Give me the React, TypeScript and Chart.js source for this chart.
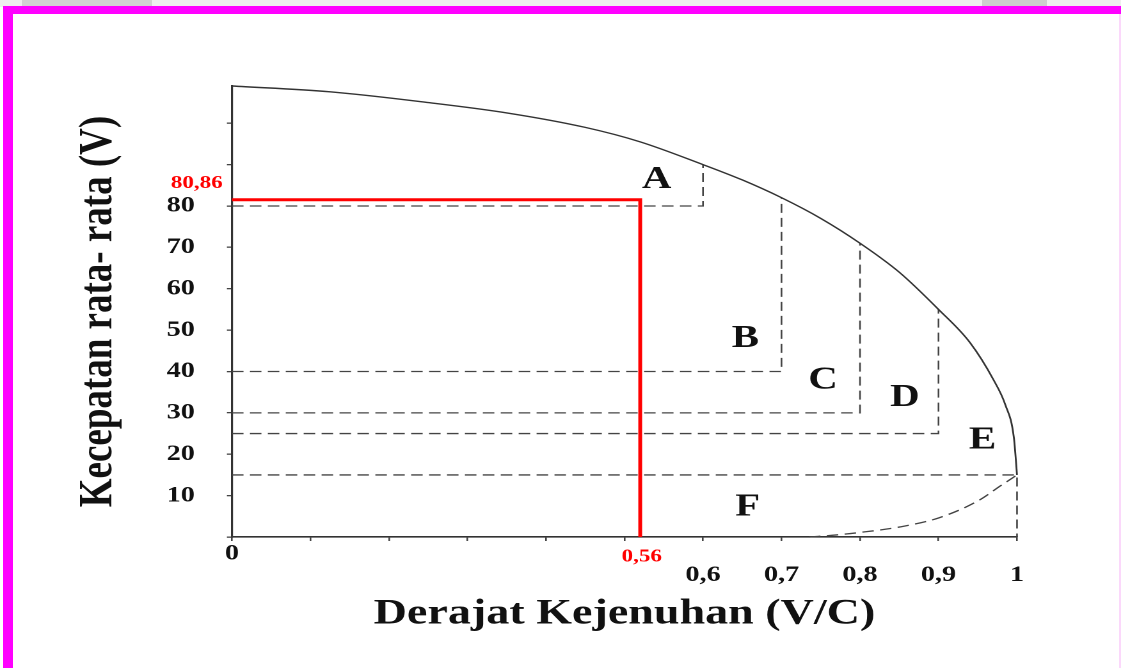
import React, { useEffect, useRef } from 'react';
import { Chart, registerables } from 'chart.js';

Chart.register(...registerables);

// ---- data (value units) ----
const upperX = [0, 0.125, 0.25, 0.35, 0.45, 0.52, 0.6, 0.65, 0.7, 0.75, 0.8, 0.85, 0.9, 0.94, 0.97, 0.985, 0.996, 1];
const upperV = [109, 107.6, 105, 102.5, 99, 95.5, 90, 86.3, 82, 77, 71, 64, 55, 47, 38, 32, 24, 15];
const lowerX = [0.735, 0.77, 0.8, 0.85, 0.9, 0.95, 0.98, 1];
const lowerV = [0, 0.5, 1.1, 2.4, 4.6, 8.7, 12.5, 15];
const boxLevel = [80, 40, 30, 25];
const boxRight = [0.6, 0.7, 0.8, 0.9];
const boxTop = [90, 82, 71, 55];
const floorLevel = 15;
const floorRight = 1;
const redX = 0.52;
const redY = 81.5;
const regionLabels = ['A', 'B', 'C', 'D', 'E', 'F'];
const regionX = [0.541, 0.654, 0.753, 0.857, 0.956, 0.657];
const regionY = [86.3, 47.9, 37.9, 33.7, 23.4, 7.2];
const noteText = ['80,86', '0,56'];
const noteX = [-0.045, 0.522];
const noteY = [85.5, -4.8];
const originText = '0';
const xTickLabels = ['', '', '', '', '', '', '0,6', '0,7', '0,8', '0,9', '1'];
const yTickLabels = ['', '10', '20', '30', '40', '50', '60', '70', '80', '', ''];
const xTitle = 'Derajat Kejenuhan (V/C)';
const yTitle = 'Kecepatan rata- rata (V)';

const PAGE_W = 1121;
const PAGE_H = 668;
const CANVAS_W = 876;
const STRETCH = PAGE_W / CANVAS_W;
const SERIF = '"Liberation Serif", "Times New Roman", serif';

const annotPlugin = {
  id: 'annot',
  afterDraw(chart: any) {
    const { ctx } = chart;
    const xs = chart.scales.x;
    const ys = chart.scales.y;
    ctx.save();
    ctx.textAlign = 'center';
    ctx.textBaseline = 'middle';
    ctx.fillStyle = '#111';
    ctx.font = `bold 32px ${SERIF}`;
    regionLabels.forEach((t, i) => {
      ctx.fillText(t, xs.getPixelForValue(regionX[i]), ys.getPixelForValue(regionY[i]));
    });
    ctx.fillStyle = '#ff0000';
    ctx.font = `bold 18px ${SERIF}`;
    noteText.forEach((t, i) => {
      ctx.fillText(t, xs.getPixelForValue(noteX[i]), ys.getPixelForValue(noteY[i]));
    });
    ctx.fillStyle = '#111';
    ctx.font = `bold 22px ${SERIF}`;
    ctx.fillText(originText, xs.getPixelForValue(0), ys.getPixelForValue(-4.1));
    ctx.restore();
  },
};

function pts(xs: number[], ys: number[]) {
  return xs.map((x, i) => ({ x, y: ys[i] }));
}

export default function App() {
  const ref = useRef<HTMLCanvasElement | null>(null);

  useEffect(() => {
    if (!ref.current) return;
    const dashed = { borderDash: [9, 5], borderColor: '#444', borderWidth: 1.3 };
    const datasets: any[] = [
      {
        data: pts(upperX, upperV),
        borderColor: '#333',
        borderWidth: 1.4,
        cubicInterpolationMode: 'monotone',
      },
      {
        data: pts(lowerX, lowerV),
        cubicInterpolationMode: 'monotone',
        ...dashed,
      },
      ...boxLevel.map((lv, i) => ({
        data: [
          { x: 0, y: lv },
          { x: boxRight[i], y: lv },
          { x: boxRight[i], y: boxTop[i] },
        ],
        ...dashed,
      })),
      {
        data: [
          { x: 0, y: floorLevel },
          { x: floorRight, y: floorLevel },
          { x: floorRight, y: 0 },
        ],
        ...dashed,
      },
      {
        data: [
          { x: 0, y: redY },
          { x: redX, y: redY },
          { x: redX, y: 0 },
        ],
        borderColor: '#ff0000',
        borderWidth: 3,
      },
    ].map((d) => ({ showLine: true, pointRadius: 0, clip: false, fill: false, ...d }));

    const chart = new Chart(ref.current, {
      type: 'scatter',
      data: { datasets },
      plugins: [annotPlugin],
      options: {
        animation: false,
        responsive: false,
        maintainAspectRatio: false,
        devicePixelRatio: 2,
        events: [],
        layout: { padding: { left: 0, top: 86, right: CANVAS_W - 1017 / STRETCH, bottom: 0 } },
        plugins: { legend: { display: false }, tooltip: { enabled: false }, title: { display: false } },
        scales: {
          x: {
            type: 'linear',
            min: 0,
            max: 1,
            afterFit: (s: any) => {
              s.height = PAGE_H - 537;
            },
            ticks: {
              stepSize: 0.1,
              autoSkip: false,
              includeBounds: false,
              maxRotation: 0,
              padding: 21,
              color: '#111',
              font: { family: SERIF, size: 22, weight: 'bold' },
              callback: (v: any) => xTickLabels[Math.round(Number(v) * 10)] ?? '',
            },
            grid: { drawOnChartArea: false, drawTicks: true, tickLength: 4, color: '#444', lineWidth: 1.3 },
            border: { display: true, color: '#333', width: 1.6 },
            title: {
              display: true,
              text: xTitle,
              color: '#111',
              font: { family: SERIF, size: 36, weight: 'bold' },
              padding: { top: 0, bottom: 32 },
            },
          },
          y: {
            type: 'linear',
            min: 0,
            max: 109,
            afterFit: (s: any) => {
              s.width = 232 / STRETCH;
            },
            ticks: {
              stepSize: 10,
              autoSkip: false,
              includeBounds: false,
              padding: 25,
              color: '#111',
              font: { family: SERIF, size: 22, weight: 'bold' },
              callback: (v: any) => yTickLabels[Math.round(Number(v) / 10)] ?? '',
            },
            grid: { drawOnChartArea: false, drawTicks: true, tickLength: 4, color: '#444', lineWidth: 1.3 },
            border: { display: true, color: '#333', width: 1.6 },
            title: {
              display: true,
              text: yTitle,
              color: '#111',
              font: { family: SERIF, size: 37, weight: 'bold' },
              padding: { top: 55, bottom: 0 },
            },
          },
        },
      } as any,
    });
    return () => chart.destroy();
  }, []);

  const abs = (s: React.CSSProperties): React.CSSProperties => ({ position: 'absolute', ...s });

  return (
    <div
      style={{
        position: 'fixed',
        left: 0,
        top: 0,
        width: PAGE_W,
        height: PAGE_H,
        overflow: 'hidden',
        background: '#ffffff',
      }}
    >
      <div style={abs({ left: 0, top: 0, width: PAGE_W, height: 7, background: '#eeeeee' })} />
      <div style={abs({ left: 22, top: 0, width: 130, height: 6, background: '#d2d2d2' })} />
      <div style={abs({ left: 982, top: 0, width: 65, height: 6, background: '#cdcdcd' })} />
      <div style={abs({ left: 3, top: 6, width: PAGE_W - 3, height: 8, background: '#ff00ff' })} />
      <div style={abs({ left: 3, top: 6, width: 10, height: PAGE_H - 6, background: '#ff00ff' })} />
      <div style={abs({ left: PAGE_W - 2, top: 14, width: 2, height: PAGE_H - 14, background: '#fbd8fb' })} />
      <div
        style={abs({
          left: 0,
          top: 0,
          width: CANVAS_W,
          height: PAGE_H,
          transform: `scaleX(${STRETCH})`,
          transformOrigin: '0 0',
        })}
      >
        <canvas ref={ref} width={CANVAS_W} height={PAGE_H} />
      </div>
    </div>
  );
}
